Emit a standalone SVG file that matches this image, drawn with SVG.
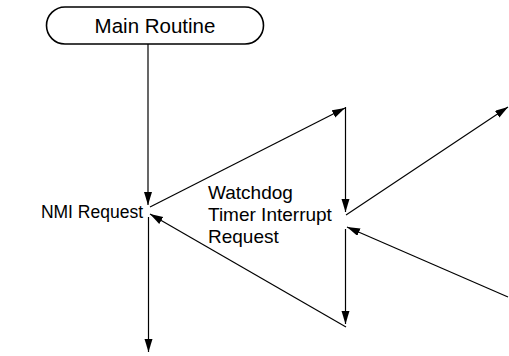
<svg xmlns="http://www.w3.org/2000/svg" width="509" height="356" viewBox="0 0 509 356">
<style>
.t{font-family:"Liberation Sans",Arial,sans-serif;fill:#000}
.c{stroke:#000;stroke-width:1.2;fill:none;marker-end:url(#ah)}
.n{fill:#fff;stroke:#000;stroke-width:1.6}
</style>
<defs>
<marker id="ah" markerUnits="userSpaceOnUse" markerWidth="14" markerHeight="9" refX="13" refY="4" orient="auto" viewBox="0 0 14 9">
<path d="M0,0 L13,4 L0,8 z" fill="#000"/>
</marker>
</defs>
<rect width="509" height="356" fill="#fff"/>
<g id="main-routine">
<rect class="n" x="46.5" y="7" width="217" height="37" rx="18.5" ry="18.5"/>
<text class="t" x="155" y="33" font-size="20.5" text-anchor="middle">Main Routine</text>
</g>
<g id="nmi-request">
<text class="t" x="143" y="218" font-size="17.5" text-anchor="end">NMI Request</text>
</g>
<g id="watchdog-label">
<text class="t" x="208" y="199" font-size="19">Watchdog</text>
<text class="t" x="208" y="221" font-size="19">Timer Interrupt</text>
<text class="t" x="208" y="243" font-size="19">Request</text>
</g>
<g id="connectors">
<line class="c" x1="148" y1="44" x2="148" y2="205"/>
<line class="c" x1="150" y1="207" x2="345" y2="108"/>
<line class="c" x1="345.5" y1="107" x2="345.5" y2="212"/>
<line class="c" x1="346" y1="215" x2="508" y2="107"/>
<line class="c" x1="508" y1="297" x2="347" y2="227"/>
<line class="c" x1="345.5" y1="229" x2="345.5" y2="324"/>
<line class="c" x1="346" y1="327" x2="150" y2="214"/>
<line class="c" x1="148.5" y1="217" x2="148.5" y2="352"/>
</g>
</svg>
